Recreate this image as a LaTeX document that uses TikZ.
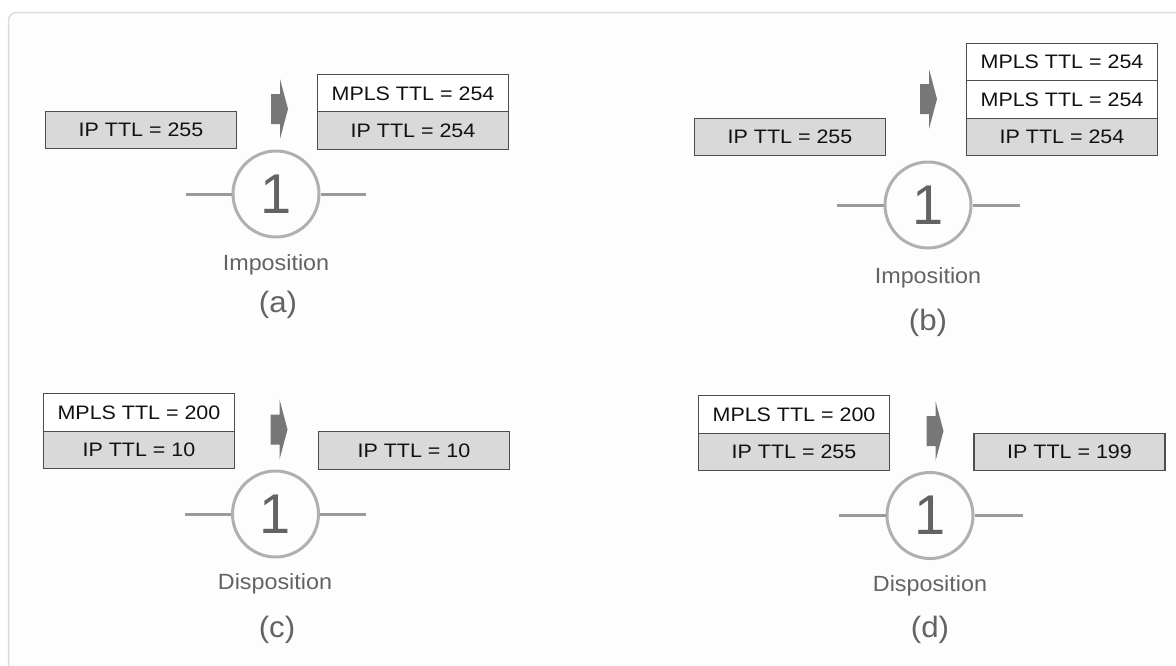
\documentclass[tikz,border=0pt]{standalone}
\usepackage{fontspec}
\setmainfont{Liberation Sans}
\newfontfamily\boxfont[FakeStretch=1.1]{Liberation Sans}
\newfontfamily\capfont[FakeStretch=1.06]{Liberation Sans}
\definecolor{boxgray}{HTML}{D9D9D9}
\definecolor{boxline}{HTML}{4D4D4D}
\definecolor{txtdark}{HTML}{111111}
\definecolor{ringcol}{HTML}{B0B0B0}
\definecolor{linkcol}{HTML}{9A9A9A}
\definecolor{softtxt}{HTML}{636363}
\definecolor{arrowgray}{HTML}{777777}
\definecolor{framecol}{HTML}{DCDCDC}
\definecolor{framefill}{HTML}{FDFDFD}
\tikzset{
  ttlbox/.style={rectangle, draw=boxline, line width=1.1pt, minimum width=191pt,
    minimum height=37.5pt, inner sep=0pt, text=txtdark,
    font=\boxfont\fontsize{19.5}{23}\selectfont},
  ipbox/.style={ttlbox, fill=boxgray},
  mplsbox/.style={ttlbox, fill=white},
  router/.style={circle, draw=ringcol, line width=3pt, minimum size=86pt, inner sep=0pt,
    text=softtxt, font=\fontsize{56}{60}\selectfont},
  link/.style={draw=linkcol, line width=3pt},
  roletext/.style={anchor=base, text=softtxt, inner sep=0pt, font=\capfont\fontsize{22}{25}\selectfont},
  subtext/.style={anchor=base, text=softtxt, inner sep=0pt, font=\capfont\fontsize{29.5}{32}\selectfont},
  fwdarrow/.pic={\fill[arrowgray] (-9,-15) -- (0,-15) -- (0,-30) -- (8,0) -- (0,30) -- (0,15) -- (-9,15) -- cycle;}
}
\begin{document}
\begin{tikzpicture}[x=1pt,y=-1pt]
\useasboundingbox (0,0) rectangle (1176,665);
\fill[white] (0,0) rectangle (1176,665);
\draw[draw=framecol, fill=framefill, line width=1.5pt, rounded corners=8pt] (8.5,12.5) rectangle (1200,700);

% ---------- (a) ----------
\node[ipbox] (a-in) at (141,130) {IP TTL = 255};
\node[mplsbox] (a-mpls) at (413,93.5) {MPLS TTL = 254};
\node[ipbox] (a-ip) at (413,130.5) {IP TTL = 254};
\pic (a-arr) at (280,109) {fwdarrow};
\node[router] (a-r) at (276,194) {1};
\coordinate (a-l) at (186,194);
\coordinate (a-rr) at (366,194);
\draw[link] (a-l) -- (a-r);
\draw[link] (a-r) -- (a-rr);
\node[roletext] (a-role) at (276,270) {Imposition};
\node[subtext] (a-lab) at (278,312) {(a)};

% ---------- (b) ----------
\node[ipbox] (b-in) at (790,137) {IP TTL = 255};
\node[mplsbox] (b-mpls1) at (1062,62) {MPLS TTL = 254};
\node[mplsbox] (b-mpls2) at (1062,99.5) {MPLS TTL = 254};
\node[ipbox] (b-ip) at (1062,137) {IP TTL = 254};
\pic (b-arr) at (929,99) {fwdarrow};
\node[router] (b-r) at (928,205) {1};
\coordinate (b-l) at (837,205);
\coordinate (b-rr) at (1020,205);
\draw[link] (b-l) -- (b-r);
\draw[link] (b-r) -- (b-rr);
\node[roletext] (b-role) at (928,283) {Imposition};
\node[subtext] (b-lab) at (928,330) {(b)};

% ---------- (c) ----------
\node[mplsbox] (c-mpls) at (139,412.5) {MPLS TTL = 200};
\node[ipbox] (c-in) at (139,450) {IP TTL = 10};
\node[ipbox] (c-out) at (414,450.5) {IP TTL = 10};
\pic (c-arr) at (279.5,429.5) {fwdarrow};
\node[router] (c-r) at (275.5,514) {1};
\coordinate (c-l) at (185,514);
\coordinate (c-rr) at (366,514);
\draw[link] (c-l) -- (c-r);
\draw[link] (c-r) -- (c-rr);
\node[roletext] (c-role) at (275,589) {Disposition};
\node[subtext] (c-lab) at (277,637) {(c)};

% ---------- (d) ----------
\node[mplsbox] (d-mpls) at (794,414.5) {MPLS TTL = 200};
\node[ipbox] (d-in) at (794,452) {IP TTL = 255};
\node[ipbox] (d-out) at (1069.5,452) {IP TTL = 199};
\pic (d-arr) at (935.5,431) {fwdarrow};
\node[router] (d-r) at (930,515.5) {1};
\coordinate (d-l) at (839,515.5);
\coordinate (d-rr) at (1023,515.5);
\draw[link] (d-l) -- (d-r);
\draw[link] (d-r) -- (d-rr);
\node[roletext] (d-role) at (930,591) {Disposition};
\node[subtext] (d-lab) at (930,637) {(d)};
\end{tikzpicture}
\end{document}
